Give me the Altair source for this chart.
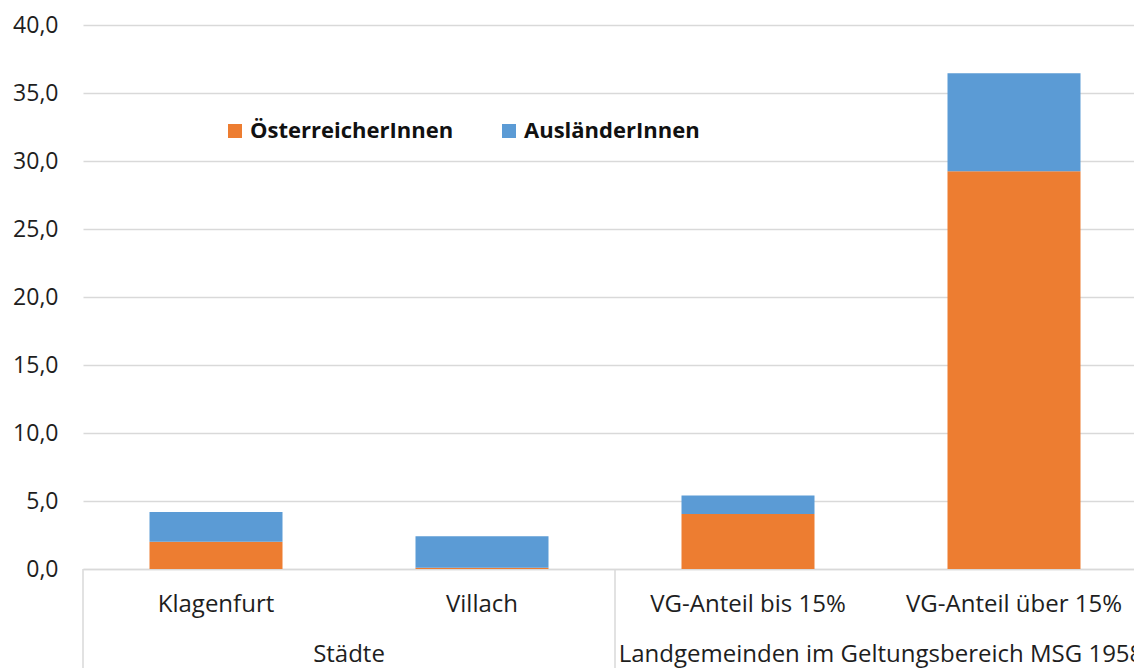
import altair as alt
import pandas as pd

categories = ["Klagenfurt", "Villach", "VG-Anteil bis 15%", "VG-Anteil über 15%"]
oesterreicher = [2.0, 0.1, 4.05, 29.25]
auslaender = [2.2, 2.3, 1.35, 7.2]
series = ["ÖsterreicherInnen", "AusländerInnen"]
colors = ["#ED7D31", "#5B9BD5"]
groups = ["Städte", "Landgemeinden im Geltungsbereich MSG 1958"]
group_centers = [1, 3]
separators = [0, 2, 4]
y_ticks = [0, 5, 10, 15, 20, 25, 30, 35, 40]

rows = []
for i, c in enumerate(categories):
    rows.append({"cat": c, "series": series[0], "value": oesterreicher[i], "order": 0})
    rows.append({"cat": c, "series": series[1], "value": auslaender[i], "order": 1})
df = pd.DataFrame(rows)

W = 1051
H = 544
RANGE = 1064
FONT = "Open Sans"
FS = 24
TXT = "#1e1e1e"

xscale = alt.Scale(domain=categories, range=[0, RANGE], paddingInner=0.5, paddingOuter=0.25)
qscale = alt.Scale(domain=[0, 4], range=[0, RANGE], nice=False, zero=False)

bars = alt.Chart(df).mark_bar().encode(
    x=alt.X("cat:N", scale=xscale, sort=categories,
            axis=alt.Axis(title=None, labels=False, ticks=False, domain=True,
                          domainColor="#d9d9d9", domainWidth=1.5, grid=False)),
    y=alt.Y("value:Q", stack="zero", scale=alt.Scale(domain=[0, 40], nice=False),
            axis=alt.Axis(title=None, values=y_ticks,
                          labelExpr="replace(format(datum.value,'.1f'),'.',',')",
                          ticks=False, domain=False, gridColor="#d9d9d9", gridWidth=1.5,
                          labelFontSize=23, labelPadding=25, labelFont=FONT,
                          labelColor=TXT)),
    color=alt.Color("series:N", scale=alt.Scale(domain=series, range=colors),
                    legend=alt.Legend(title=None, orient="none", legendX=141, legendY=95,
                                      direction="horizontal", symbolType="square",
                                      symbolSize=196, labelFontSize=22,
                                      labelFontWeight="bold", labelFont=FONT,
                                      columnPadding=44, labelOffset=4, labelLimit=600,
                                      symbolStrokeWidth=0, labelColor="#111")),
    order=alt.Order("order:Q"),
)

cat_text = alt.Chart(pd.DataFrame({"cat": categories})).mark_text(
    fontSize=FS, font=FONT, baseline="middle", color=TXT
).encode(
    x=alt.X("cat:N", scale=xscale, sort=categories, axis=None),
    y=alt.value(H + 36),
    text="cat:N",
)

sep = alt.Chart(pd.DataFrame({"pos": separators})).mark_rule(
    color="#d9d9d9", strokeWidth=1.5
).encode(
    x=alt.X("pos:Q", scale=qscale, axis=None),
    y=alt.value(H),
    y2=alt.value(H + 110),
)

grp_text = alt.Chart(pd.DataFrame({"pos": group_centers, "label": groups})).mark_text(
    fontSize=FS, font=FONT, baseline="middle", color=TXT
).encode(
    x=alt.X("pos:Q", scale=qscale, axis=None),
    y=alt.value(H + 86),
    text="label:N",
)

chart = alt.layer(bars, cat_text, sep, grp_text).resolve_scale(x="independent").properties(
    width=W, height=H,
    padding={"left": 75, "top": 17, "right": 0, "bottom": 99},
    autosize="none",
).configure_view(stroke=None)

chart.save("out.html", embed_options={"renderer": "svg", "actions": False})
